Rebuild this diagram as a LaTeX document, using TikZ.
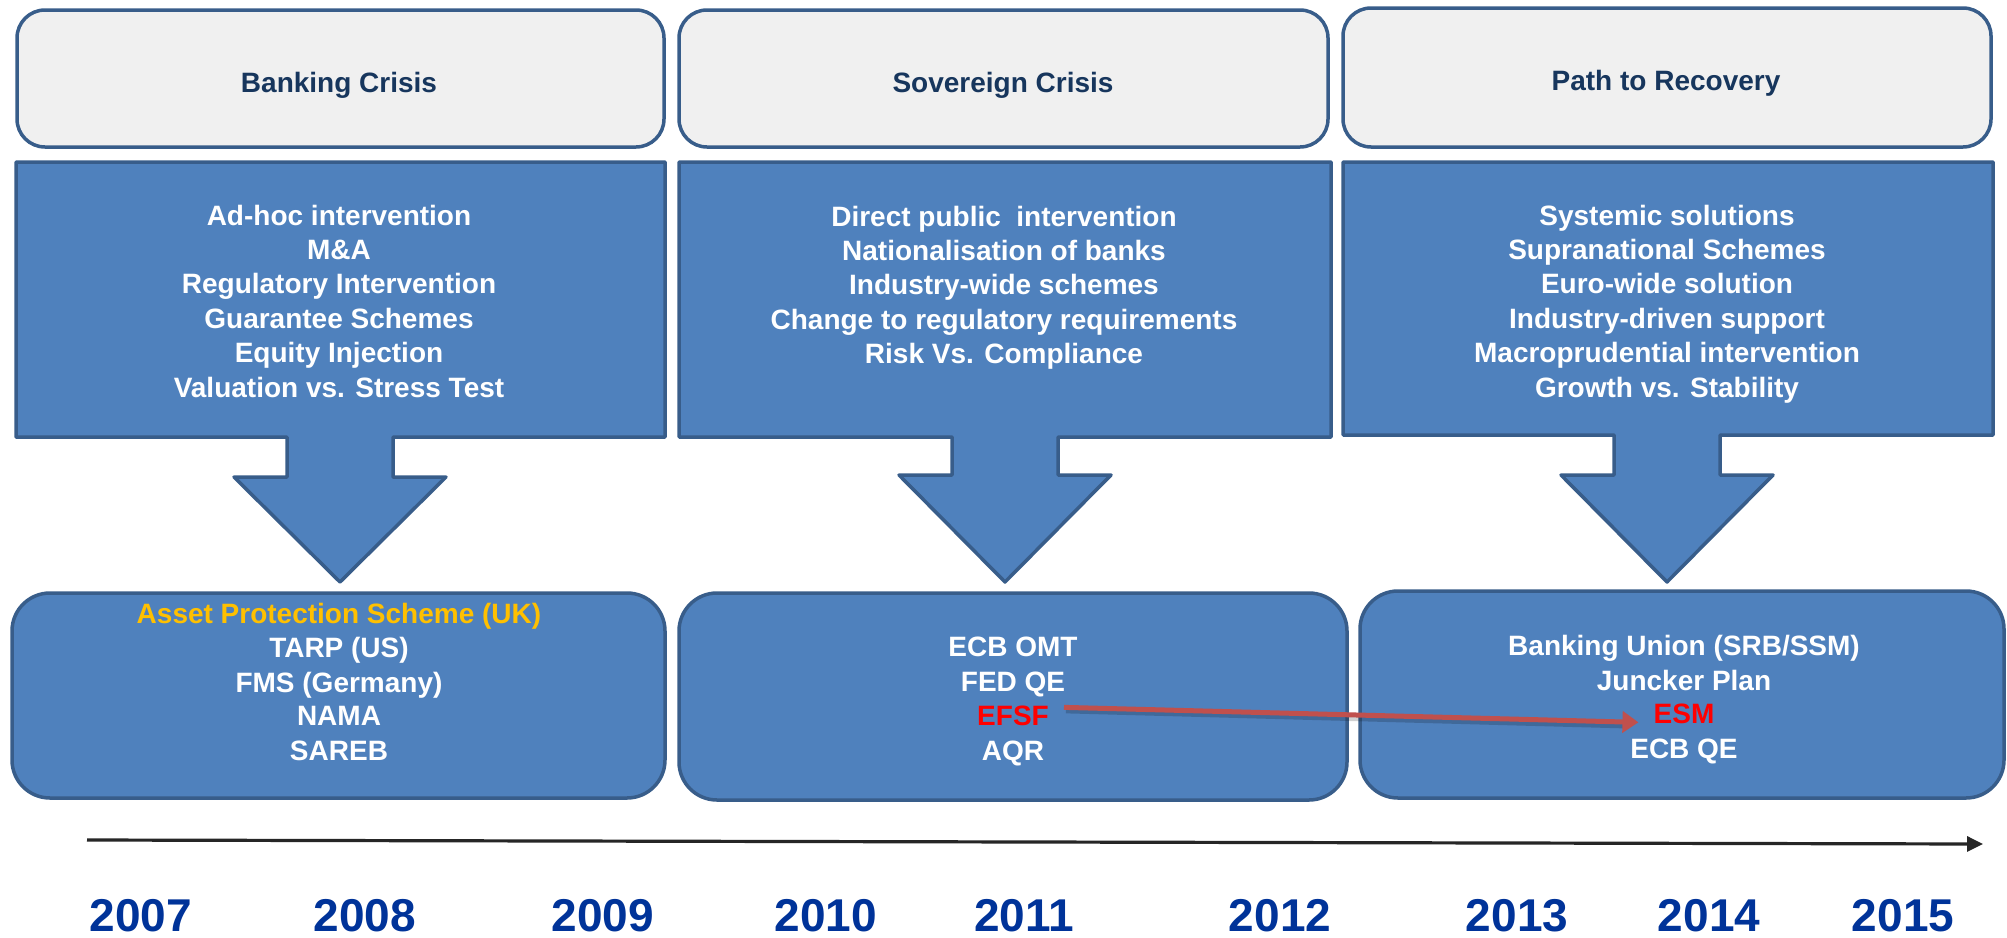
\documentclass[tikz,border=0pt]{standalone}
\usepackage{fontspec}
\setmainfont{Liberation Sans}
\usetikzlibrary{arrows.meta}
\definecolor{hdrfill}{HTML}{F0F0F0}
\definecolor{edgeblue}{HTML}{385D8A}
\definecolor{bluefill}{HTML}{4F81BD}
\definecolor{navy}{HTML}{17365D}
\definecolor{goldtxt}{HTML}{FFC000}
\definecolor{redtxt}{HTML}{FF0000}
\definecolor{redarrow}{HTML}{C0504D}
\definecolor{yearblue}{HTML}{003399}
\definecolor{tlgray}{HTML}{262626}
\begin{document}
\begin{tikzpicture}[x=1pt,y=-1pt,
  hdrbox/.style={draw=edgeblue, line width=3.5pt, fill=hdrfill, rounded corners=28pt, inner sep=0pt},
  botbox/.style={draw=edgeblue, line width=3.5pt, fill=bluefill, rounded corners=38pt, inner sep=0pt},
  callout/.style={draw=edgeblue, line width=3.5pt, fill=bluefill, line join=round},
  hdrtxt/.style={anchor=base, inner sep=0pt, text=navy, font=\fontsize{28}{34}\selectfont\bfseries},
  wtxt/.style={anchor=base, inner sep=0pt, text=white, font=\fontsize{28}{34}\selectfont\bfseries},
  yeartxt/.style={anchor=base, inner sep=0pt, text=yearblue, font=\fontsize{46}{50}\selectfont\bfseries},
  redarr/.style={draw=redarrow, line width=5pt, -{Triangle[length=16pt,width=21pt]}},
  redshadow/.style={draw=black, opacity=0.18, line width=6pt},
  timeline/.style={draw=tlgray, line width=3.2pt, -{Triangle[length=16pt,width=15pt]}}
]
\fill[white] (0,0) rectangle (2007,937);
\useasboundingbox (0,0) rectangle (2007,937);

% header boxes
\node[hdrbox, minimum width=647pt, minimum height=137pt] (h1) at (340.5,78.5) {};
\node[hdrbox, minimum width=649pt, minimum height=137pt] (h2) at (1003.5,78.5) {};
\node[hdrbox, minimum width=648pt, minimum height=139pt] (h3) at (1667,77.5) {};
\node[hdrtxt] (h1t) at (339,92) {Banking Crisis};
\node[hdrtxt] (h2t) at (1003,92) {Sovereign Crisis};
\node[hdrtxt] (h3t) at (1666,90) {Path to Recovery};

% callouts with down arrows
\foreach \l/\r/\b/\c/\hy in {16/665/437/340/477, 679/1331/437/1005/475, 1343/1993/435/1667/475}{
  \draw[callout] (\l,162) -- (\r,162) -- (\r,\b) -- (\c+53,\b) -- (\c+53,\hy) -- (\c+106,\hy)
    -- (\c,582) -- (\c-106,\hy) -- (\c-53,\hy) -- (\c-53,\b) -- (\l,\b) -- cycle;
}

% callout texts
\foreach \t [count=\i] in {Ad-hoc intervention, M\&A, Regulatory Intervention, Guarantee Schemes, Equity Injection, Valuation vs. Stress Test}
  \node[wtxt] (ca\i) at (339, 190.6+34.4*\i) {\t};
\foreach \t [count=\i] in {Direct public\ \ intervention, Nationalisation of banks, Industry-wide schemes, Change to regulatory requirements, Risk Vs. Compliance}
  \node[wtxt] (cb\i) at (1004, 191.6+34.4*\i) {\t};
\foreach \t [count=\i] in {Systemic solutions, Supranational Schemes, Euro-wide solution, Industry-driven support, Macroprudential intervention, Growth vs. Stability}
  \node[wtxt] (cc\i) at (1667, 190.6+34.4*\i) {\t};

% bottom boxes
\node[botbox, minimum width=653pt, minimum height=205pt] (b1) at (338.5,695.5) {};
\node[botbox, minimum width=668pt, minimum height=207pt] (b2) at (1013,696.5) {};
\node[botbox, minimum width=644pt, minimum height=207pt] (b3) at (1682,694.5) {};

\node[wtxt, text=goldtxt] (b1l1) at (339,623) {Asset Protection Scheme (UK)};
\node[wtxt] (b1l2) at (339,657) {TARP (US)};
\node[wtxt] (b1l3) at (339,692) {FMS (Germany)};
\node[wtxt] (b1l4) at (339,725) {NAMA};
\node[wtxt] (b1l5) at (339,760) {SAREB};

\node[wtxt] (b2l1) at (1013,656) {ECB OMT};
\node[wtxt] (b2l2) at (1013,691) {FED QE};
\node[wtxt, text=redtxt] (b2l3) at (1013,725) {EFSF};
\node[wtxt] (b2l4) at (1013,760) {AQR};

\node[wtxt] (b3l1) at (1684,655) {Banking Union (SRB/SSM)};
\node[wtxt] (b3l2) at (1684,690) {Juncker Plan};
\node[wtxt, text=redtxt] (b3l3) at (1684,723) {ESM};
\node[wtxt] (b3l4) at (1684,758) {ECB QE};

% red connector EFSF -> ESM (with soft shadow)
\draw[redshadow] ([xshift=17pt,yshift=5pt]b2l3.east) -- ([xshift=-30pt,yshift=-12pt]b3l3.west);
\draw[redarr] ([xshift=15pt,yshift=8pt]b2l3.east) -- ([xshift=-15pt,yshift=-9pt]b3l3.west);

% timeline
\coordinate (t0) at (87,840);
\coordinate (t1) at (1983,844);
\draw[timeline] (t0) -- (t1);

% years
\node[yeartxt] (y2007) at (141,931) {2007};
\node[yeartxt] (y2008) at (365,931) {2008};
\node[yeartxt] (y2009) at (603,931) {2009};
\node[yeartxt] (y2010) at (826,931) {2010};
\node[yeartxt] (y2011) at (1024,931) {2011};
\node[yeartxt] (y2012) at (1280,931) {2012};
\node[yeartxt] (y2013) at (1517,931) {2013};
\node[yeartxt] (y2014) at (1709,931) {2014};
\node[yeartxt] (y2015) at (1903,931) {2015};
\end{tikzpicture}
\end{document}
